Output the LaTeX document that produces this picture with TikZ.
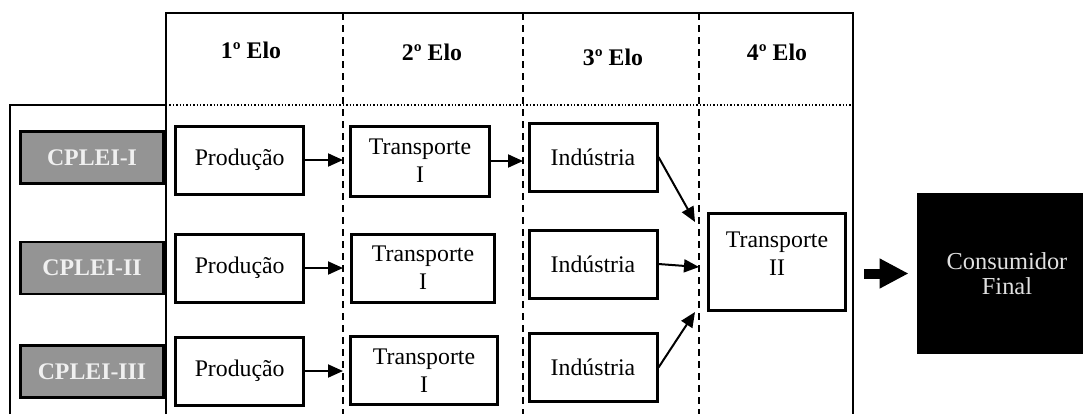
\documentclass[tikz,border=0pt]{standalone}
\usepackage{fontspec}
\setmainfont{Liberation Serif}
\usetikzlibrary{arrows.meta}

\begin{document}
\begin{tikzpicture}[x=0.5pt,y=-0.5pt,
  every node/.style={font=\fontsize{11.9}{14}\selectfont},
  elo/.style={font=\fontsize{11.9}{14}\selectfont\bfseries},
  cplei/.style={draw,line width=1.2pt,fill=black!42,text=black!6,font=\fontsize{11.9}{14}\selectfont\bfseries,minimum width=71.5pt,minimum height=26pt,inner sep=0pt},
  etapa/.style={draw,line width=1.5pt,fill=white,align=center,minimum width=64pt,minimum height=34pt,inner sep=0pt},
  seta/.style={line width=1pt,-{Triangle[length=7.5pt,width=6.5pt]}},
  grande/.style={line width=5pt,-{Triangle[length=14.5pt,width=14pt]},shorten >=4pt},
  elolinha/.style={line width=1pt,dash pattern=on 3.5pt off 2.5pt}]
  \useasboundingbox (0,0) rectangle (1083,414);
  \draw[line width=1pt] (166,414) -- (166,13.3) -- (853,13.3) -- (853,414);
  \draw[line width=1pt] (10.3,414) -- (10.3,105) -- (166,105);
  \draw[densely dotted,line width=0.7pt] (166,105) -- (853,105);
  \coordinate (d1) at (343,0);
  \coordinate (d2) at (523,0);
  \coordinate (d3) at (699,0);
  \foreach \d in {d1,d2,d3}
    \draw[elolinha] (\d |- 0,13.3) -- (\d |- 0,414);
  \node[elo] (h1) at (251,50) {1º Elo};
  \node[elo] (h2) at (432,52) {2º Elo};
  \node[elo] (h3) at (613,57) {3º Elo};
  \node[elo] (h4) at (777,52) {4º Elo};
  \node[cplei] (c1) at (92,157.5) {CPLEI-I};
  \node[cplei] (c2) at (92,268) {CPLEI-II};
  \node[cplei] (c3) at (92,371.5) {CPLEI-III};
  \node[etapa] (p1) at (239.7,160) {Produção};
  \node[etapa] (p2) at (239.7,268) {Produção};
  \node[etapa] (p3) at (239.7,371) {Produção};
  \node[etapa,minimum width=69.5pt,minimum height=35pt] (t1) at (420,161) {Transporte\\I};
  \node[etapa,minimum width=71.8pt] (t2) at (423,268) {Transporte\\I};
  \node[etapa,minimum width=73.5pt] (t3) at (424,370.5) {Transporte\\I};
  \node[etapa] (i1) at (593,157) {Indústria};
  \node[etapa] (i2) at (593,264) {Indústria};
  \node[etapa] (i3) at (593,367.5) {Indústria};
  \node[etapa,minimum width=68.5pt,minimum height=48.3pt,text depth=8pt] (tt) at (777,261.7) {Transporte\\II};
  \node[fill=black,text=black!12,align=center,minimum width=90pt,minimum height=80.5pt,
    font=\fontsize{12.2}{12.8}\selectfont] (cf) at (1007,273.5) {Consumidor\\Final};
  \draw[seta] (p1.east) -- (p1.east -| d1);
  \draw[seta] (p2.east) -- (p2.east -| d1);
  \draw[seta] (p3.east) -- (p3.east -| d1);
  \draw[seta] (t1.east) -- (t1.east -| d2);
  \coordinate (e1) at (695,222);
  \coordinate (e2) at (699,267);
  \coordinate (e3) at (695,312);
  \draw[seta] (i1.east) -- (e1);
  \draw[seta] (i2.east) -- (e2);
  \draw[seta] (i3.east) -- (e3);
  \coordinate (s0) at (864,273.5);
  \draw[grande] (s0) -- (cf.west);
\end{tikzpicture}
\end{document}
